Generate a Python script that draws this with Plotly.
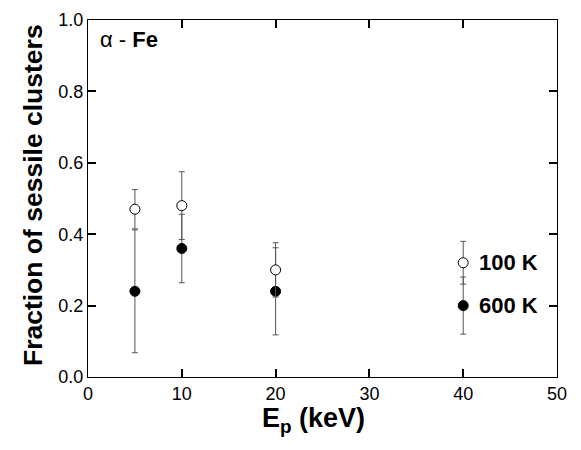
import plotly.graph_objects as go

energy = [5, 10, 20, 40]
frac_100K = [0.47, 0.48, 0.30, 0.32]
err_100K = [0.055, 0.095, 0.076, 0.06]
frac_600K = [0.24, 0.36, 0.24, 0.20]
err_600K = [0.172, 0.096, 0.122, 0.08]

x_ticks = [0, 10, 20, 30, 40, 50]
y_ticks = [0.0, 0.2, 0.4, 0.6, 0.8, 1.0]

FONT = "Liberation Sans, Arial, Helvetica, sans-serif"
ERRC = "#555555"

fig = go.Figure()
fig.add_trace(go.Scatter(
    x=energy, y=frac_600K, mode="markers",
    error_y=dict(type="data", array=err_600K, visible=True, color=ERRC, thickness=1, width=3),
    marker=dict(symbol="circle", size=10, color="black", line=dict(color="black", width=1)),
    showlegend=False))
fig.add_trace(go.Scatter(
    x=energy, y=frac_100K, mode="markers",
    error_y=dict(type="data", array=err_100K, visible=True, color=ERRC, thickness=1, width=3),
    marker=dict(symbol="circle", size=10, color="white", line=dict(color="black", width=1)),
    showlegend=False))

fig.add_annotation(x=41.5, y=frac_100K[3], text="<b>100 K</b>", showarrow=False,
                   xanchor="left", yanchor="middle", font=dict(family=FONT, size=22, color="black"))
fig.add_annotation(x=41.5, y=frac_600K[3], text="<b>600 K</b>", showarrow=False,
                   xanchor="left", yanchor="middle", font=dict(family=FONT, size=22, color="black"))
fig.add_annotation(x=1.1, y=0.944, text="α - <b>Fe</b>", showarrow=False,
                   xanchor="left", yanchor="middle", font=dict(family=FONT, size=22, color="black"))

# axis titles as paper annotations
fig.add_annotation(xref="paper", yref="paper", x=-0.117, y=0.51,
                   text="<b>Fraction of sessile clusters</b>", textangle=-90, showarrow=False,
                   xanchor="center", yanchor="middle", font=dict(family=FONT, size=26.5, color="black"))
fig.add_annotation(xref="paper", yref="paper", x=0.48, y=-0.068,
                   text="<b>E<sub>p</sub> (keV)</b>", showarrow=False,
                   xanchor="center", yanchor="top", font=dict(family=FONT, size=27, color="black"))

fig.update_xaxes(range=[0, 50], tickvals=x_ticks, ticktext=[str(v) for v in x_ticks],
                 ticks="inside", ticklen=8, tickwidth=2, tickcolor="black",
                 showline=True, linecolor="black", mirror="ticks", automargin=False)
fig.update_yaxes(range=[0, 1.0], tickvals=y_ticks, ticktext=[f"{v:.1f}" for v in y_ticks],
                 ticks="inside", ticklen=8, tickwidth=2, tickcolor="black",
                 showline=True, linecolor="black", mirror="ticks", automargin=False)

fig.update_layout(
    template="simple_white",
    width=573, height=442,
    margin=dict(l=80, r=24, t=12, b=73),
    font=dict(family=FONT, size=18, color="black"),
)

fig.write_html("out.html")
